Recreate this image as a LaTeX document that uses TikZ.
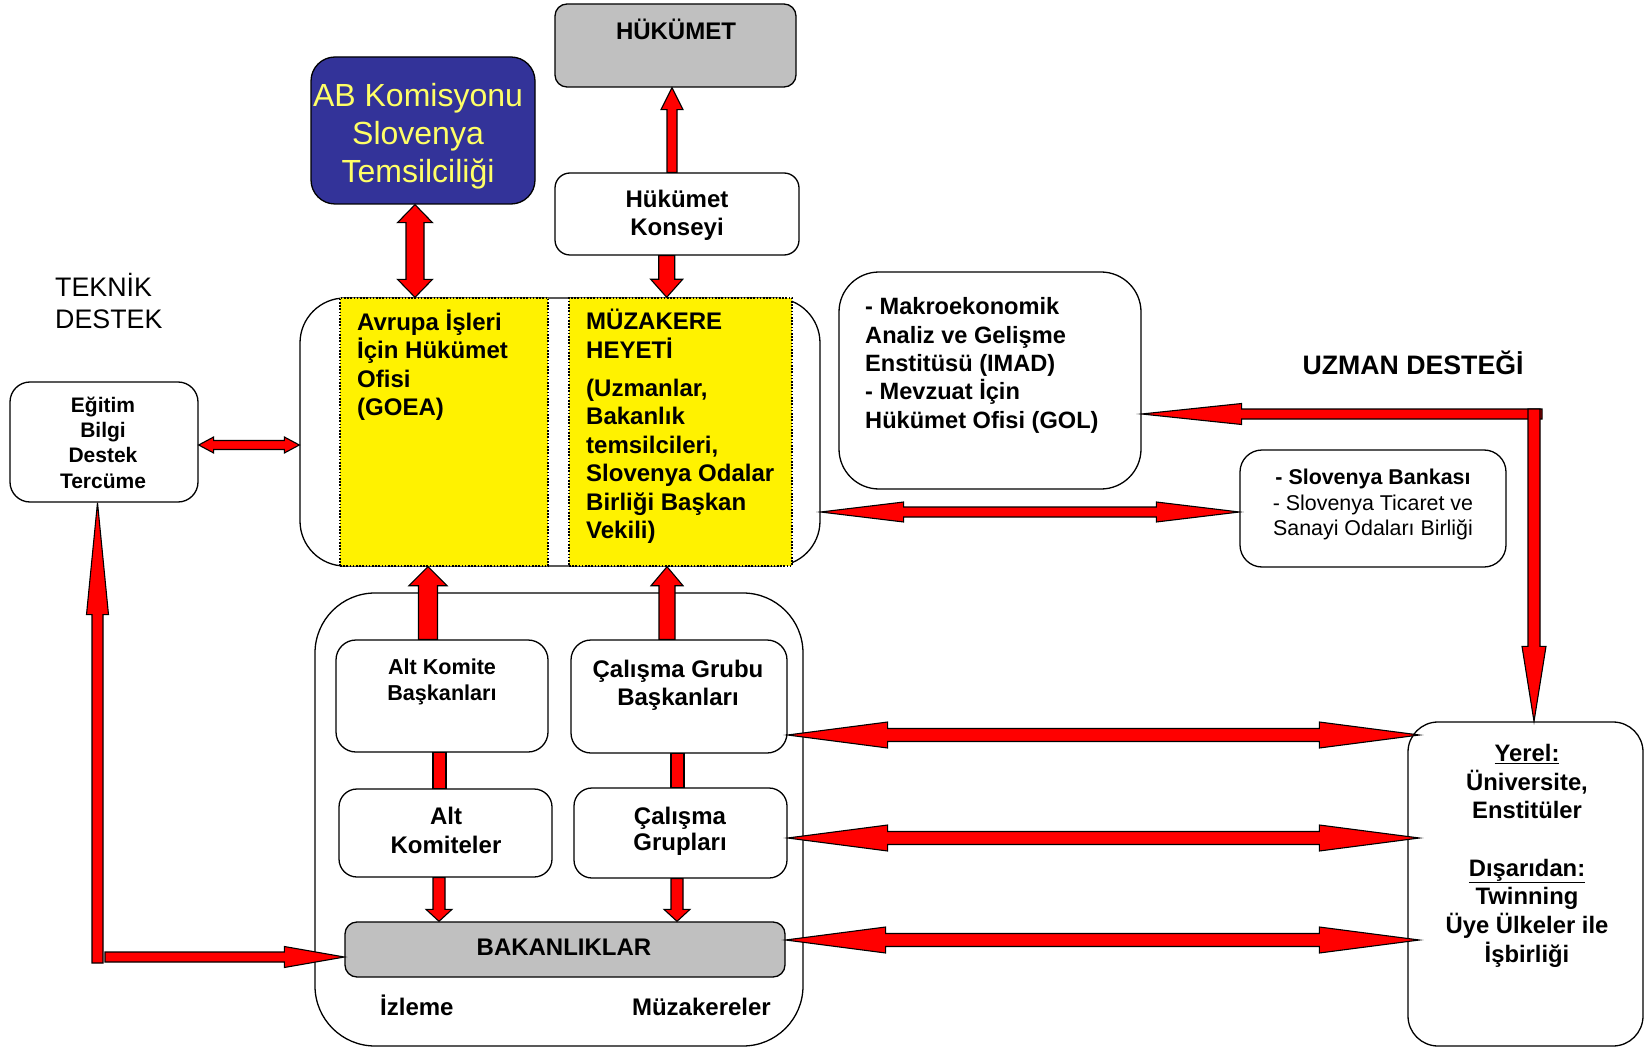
\documentclass[tikz,border=0pt]{standalone}
\usepackage{fontspec}
\setmainfont{Liberation Sans}
\usetikzlibrary{calc}
\definecolor{boxgray}{RGB}{192,192,192}
\definecolor{abblue}{RGB}{51,51,153}
\definecolor{abyellow}{RGB}{255,255,102}
\newcommand\fsz[2]{\fontsize{#1}{#2}\selectfont}
\tikzset{
  box/.style={draw=black, line width=1.3pt, rectangle, rounded corners=15pt, inner sep=0pt, fill=white},
  ybox/.style={draw=black, line width=1.4pt, dash pattern=on 1.6pt off 1.6pt, fill=yellow, inner sep=0pt, rectangle},
  t/.style={inner sep=0pt, align=center, text=black},
  blk/.style={draw=black, fill=red, line width=1.1pt, line join=miter},
  sarr/.style n args={3}{blk, to path={let \p1=(\tikztostart), \p2=(\tikztotarget), \n1={atan2(\y2-\y1,\x2-\x1)} in
    ($(\p1)+(\n1+90:#1)$) -- ($(\p2)+(\n1+180:#3)+(\n1+90:#1)$) -- ($(\p2)+(\n1+180:#3)+(\n1+90:#2)$) -- (\p2)
    -- ($(\p2)+(\n1+180:#3)+(\n1-90:#2)$) -- ($(\p2)+(\n1+180:#3)+(\n1-90:#1)$) -- ($(\p1)+(\n1-90:#1)$) -- cycle}},
  darr/.style n args={3}{blk, to path={let \p1=(\tikztostart), \p2=(\tikztotarget), \n1={atan2(\y2-\y1,\x2-\x1)} in
    (\p1) -- ($(\p1)+(\n1:#3)+(\n1+90:#2)$) -- ($(\p1)+(\n1:#3)+(\n1+90:#1)$) -- ($(\p2)+(\n1+180:#3)+(\n1+90:#1)$)
    -- ($(\p2)+(\n1+180:#3)+(\n1+90:#2)$) -- (\p2) -- ($(\p2)+(\n1+180:#3)+(\n1-90:#2)$) -- ($(\p2)+(\n1+180:#3)+(\n1-90:#1)$)
    -- ($(\p1)+(\n1:#3)+(\n1-90:#1)$) -- ($(\p1)+(\n1:#3)+(\n1-90:#2)$) -- cycle}},
  bar/.style={blk, to path={let \p1=(\tikztostart), \p2=(\tikztotarget), \n1={atan2(\y2-\y1,\x2-\x1)} in
    ($(\p1)+(\n1+90:#1)$) -- ($(\p2)+(\n1+90:#1)$) -- ($(\p2)+(\n1-90:#1)$) -- ($(\p1)+(\n1-90:#1)$) -- cycle}},
}
\begin{document}
\begin{tikzpicture}[x=1pt,y=-1pt]
\useasboundingbox[fill=white] (0,0) rectangle (1651,1048);

% boxes
\node[box, fill=boxgray, rounded corners=12pt, minimum width=241pt, minimum height=83pt] (huk) at (675.5,45.5) {};
\node[box, fill=abblue, rounded corners=24pt, minimum width=224pt, minimum height=147pt] (ab) at (423,130.5) {};
\node[box, rounded corners=15pt, minimum width=244pt, minimum height=82pt] (kon) at (677,214) {};
\node[box, rounded corners=45pt, minimum width=520pt, minimum height=268pt] (upper) at (560,432) {};
\node[ybox, minimum width=208pt, minimum height=268pt] (goea) at (444,432) {};
\node[ybox, minimum width=223pt, minimum height=268pt] (muz) at (680.5,432) {};
\node[box, rounded corners=20pt, minimum width=188pt, minimum height=120pt] (egitim) at (104,442) {};
\node[box, rounded corners=40pt, minimum width=302pt, minimum height=217pt] (macro) at (990,380.5) {};
\node[box, rounded corners=22pt, minimum width=266pt, minimum height=117pt] (bank) at (1373,508.5) {};
\node[box, rounded corners=60pt, minimum width=488pt, minimum height=453pt] (lower) at (559,819.5) {};
\node[box, rounded corners=20pt, minimum width=212pt, minimum height=112pt] (altb) at (442,696) {};
\node[box, rounded corners=20pt, minimum width=216pt, minimum height=113pt] (calb) at (679,696.5) {};
\node[box, rounded corners=18pt, minimum width=213pt, minimum height=88pt] (altk) at (445.5,833) {};
\node[box, rounded corners=18pt, minimum width=213pt, minimum height=90pt] (calg) at (680.5,833) {};
\node[box, fill=boxgray, rounded corners=12pt, minimum width=440pt, minimum height=55pt] (bak) at (565,949.5) {};
\node[box, rounded corners=30pt, minimum width=235pt, minimum height=324pt] (yerel) at (1525.5,884) {};

% texts
\node[t, font=\fsz{24}{28}\bfseries, anchor=base] (hukT) at (676,39.3) {HÜKÜMET};
\node[t, font=\fsz{32}{38}, text=abyellow] (abT) at (418,136.3) {AB Komisyonu\\Slovenya\\Temsilciliği};
\node[t, font=\fsz{24}{28}\bfseries] (konT) at (677,215.3) {Hükümet\\Konseyi};
\node[t, font=\fsz{24}{28.5}\bfseries, align=left, anchor=west] (goeaT) at (357,365.4) {Avrupa İşleri\\İçin Hükümet\\Ofisi\\(GOEA)};
\node[t, font=\fsz{24}{28.5}\bfseries, align=left, anchor=west] (muzT) at (586,426.4) {MÜZAKERE\\HEYETİ\\[9.5pt](Uzmanlar,\\Bakanlık\\temsilcileri,\\Slovenya Odalar\\Birliği Başkan\\Vekili)};
\node[t, font=\fsz{26.8}{32}, align=left, anchor=west] (teknikT) at (55,301.3) {TEKNİK\\DESTEK};
\node[t, font=\fsz{21}{25.2}\bfseries] (egitimT) at (103,442.7) {Eğitim\\Bilgi\\Destek\\Tercüme};
\node[t, font=\fsz{23.6}{28.4}\bfseries, align=left, anchor=west] (macroT) at (865,365.3) {- Makroekonomik\\Analiz ve Gelişme\\Enstitüsü (IMAD)\\- Mevzuat İçin\\Hükümet Ofisi (GOL)};
\node[t, font=\fsz{26.7}{30}\bfseries, anchor=base] (uzmanT) at (1413,374) {UZMAN DESTEĞİ};
\node[t, font=\fsz{21.4}{25.5}] (bankT) at (1373,504.6) {\textbf{- Slovenya Bankası}\\- Slovenya Ticaret ve\\Sanayi Odaları Birliği};
\node[t, font=\fsz{21.6}{25.5}\bfseries] (altbT) at (442,681.8) {Alt Komite\\Başkanları};
\node[t, font=\fsz{24}{28}\bfseries] (calbT) at (678,685.3) {Çalışma Grubu\\Başkanları};
\node[t, font=\fsz{24}{29}\bfseries] (altkT) at (446,830.4) {Alt\\Komiteler};
\node[t, font=\fsz{24}{26.5}\bfseries] (calgT) at (680,831.5) {Çalışma\\Grupları};
\node[t, font=\fsz{24}{28}\bfseries, anchor=base] (bakT) at (564,955) {BAKANLIKLAR};
\node[t, font=\fsz{24}{28}\bfseries, anchor=base west] (izT) at (380,1015) {İzleme};
\node[t, font=\fsz{24}{28}\bfseries, anchor=base east] (muzkT) at (771,1015) {Müzakereler};
\node[t, font=\fsz{23.8}{28.7}\bfseries] (yerelT) at (1527,855.8) {\underline{Yerel:}\\Üniversite,\\Enstitüler\\[28.7pt]\underline{Dışarıdan:}\\Twinning\\Üye Ülkeler ile\\İşbirliği};

% arrows
\path[sarr={5pt}{11pt}{22pt}] ([xshift=-5pt]kon.north) to ([xshift=-5pt]kon.north |- huk.south);
\path[darr={9pt}{17.5pt}{18pt}] ([xshift=-8pt]ab.south) to ([xshift=-8pt]ab.south |- upper.north);
\path[sarr={8pt}{16pt}{18pt}] ([xshift=-10.3pt]kon.south) to ([xshift=-10.3pt]kon.south |- muz.north);
\path[darr={4.5pt}{8pt}{15pt}] ([yshift=-3pt]egitim.east) to ([yshift=-3pt]egitim.east -| upper.west);
\path[sarr={9.5pt}{19pt}{19pt}] ([xshift=-14pt]altb.north) to ([xshift=-14pt]altb.north |- goea.south);
\path[sarr={8pt}{16pt}{19pt}] ([xshift=-12pt]calb.north) to ([xshift=-12pt]calb.north |- muz.south);
\path[bar={6.5pt}] ([xshift=-2.5pt]altb.south) to ([xshift=-2.5pt]altb.south |- altk.north);
\path[bar={6.5pt}] ([xshift=-1.5pt]calb.south) to ([xshift=-1.5pt]calb.south |- calg.north);
\path[sarr={6pt}{13pt}{12pt}] ([xshift=-6.5pt]altk.south) to ([xshift=-6.5pt]altk.south |- bak.north);
\path[sarr={6pt}{13pt}{12pt}] ([xshift=-3.5pt]calg.south) to ([xshift=-3.5pt]calg.south |- bak.north);

\coordinate (lc) at (97.5,963);
\coordinate (lh) at (105,957);
\path[sarr={5.5pt}{11pt}{112pt}] (lc) to (lc |- egitim.south);
\path[sarr={5pt}{10.5pt}{60pt}] (lh) to (lh -| bak.west);

\coordinate (bk) at ($(bank.west)+(0,3.5)$);
\path[darr={5pt}{10pt}{83pt}] (bk -| upper.east) to (bk);

\coordinate (e1) at ($(yerel.west)+(12,-149)$);
\coordinate (e2) at ($(yerel.west)+(12,-46)$);
\coordinate (e3) at ($(yerel.west)+(12,56)$);
\path[darr={6.5pt}{13pt}{100pt}] (e1 -| calb.east) to (e1);
\path[darr={6.5pt}{13pt}{100pt}] (e2 -| calg.east) to (e2);
\path[darr={6.5pt}{13pt}{100pt}] (e3 -| bak.east) to (e3);

\coordinate (uc) at (1542,414);
\coordinate (vc) at (1534,409);
\path[sarr={5pt}{10.5pt}{100pt}] (uc) to (uc -| macro.east);
\path[sarr={6pt}{12pt}{75pt}] (vc) to (vc |- yerel.north);
\end{tikzpicture}
\end{document}
